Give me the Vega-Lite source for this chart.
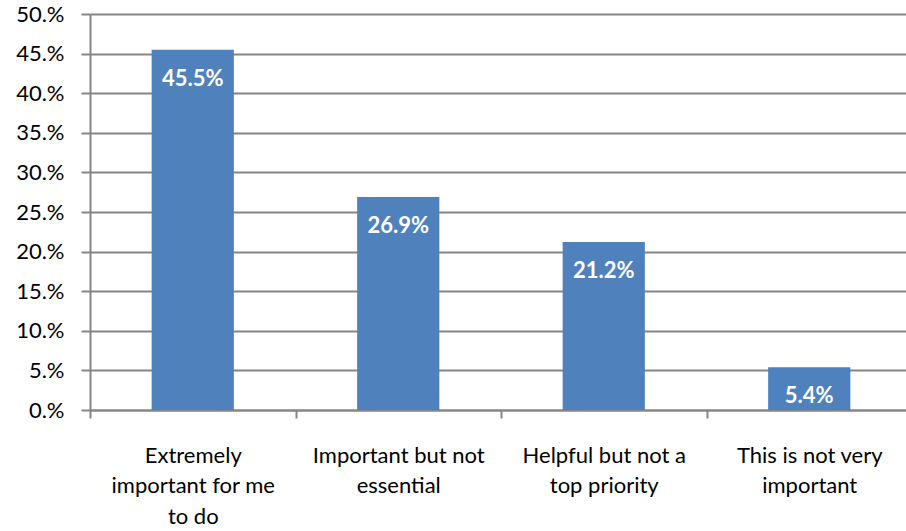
{
  "$schema": "https://vega.github.io/schema/vega-lite/v6.json",
  "width": 816,
  "height": 396,
  "autosize": {"type": "none"},
  "padding": {"left": 90, "top": 14, "right": 0, "bottom": 121},
  "background": "white",
  "config": {"view": {"stroke": null}, "font": "Lato"},
  "data": {
    "values": [
      {"category": "Extremely important for me to do", "share": 0.455},
      {"category": "Important but not essential", "share": 0.269},
      {"category": "Helpful but not a top priority", "share": 0.212},
      {"category": "This is not very important", "share": 0.054}
    ]
  },
  "encoding": {
    "x": {
      "field": "category",
      "type": "nominal",
      "sort": null,
      "scale": {"paddingInner": 0, "paddingOuter": 0, "range": [0, 822]},
      "axis": {
        "title": null,
        "labelAngle": 0,
        "tickBand": "extent",
        "domainColor": "#868686",
        "domainWidth": 2,
        "tickColor": "#868686",
        "tickWidth": 2,
        "tickSize": 8,
        "grid": false,
        "labelFont": "Lato",
        "labelFontSize": 22,
        "labelColor": "#000000",
        "labelPadding": 44,
        "labelBaseline": "alphabetic",
        "labelLineHeight": 30.5,
        "labelLimit": 0,
        "labelExpr": "datum.value == 'Extremely important for me to do' ? ['Extremely', 'important for me', 'to do'] : datum.value == 'Important but not essential' ? ['Important but not', 'essential'] : datum.value == 'Helpful but not a top priority' ? ['Helpful but not a', 'top priority'] : datum.value == 'This is not very important' ? ['This is not very', 'important'] : ''"
      }
    },
    "y": {
      "field": "share",
      "type": "quantitative",
      "scale": {"domain": [0, 0.5], "nice": false},
      "axis": {
        "title": null,
        "values": [0, 0.05, 0.1, 0.15, 0.2, 0.25, 0.3, 0.35, 0.4, 0.45, 0.5],
        "labelExpr": "format(datum.value * 100, '.0f') + '.%'",
        "grid": true,
        "gridColor": "#868686",
        "gridWidth": 2,
        "domainColor": "#868686",
        "domainWidth": 2,
        "tickColor": "#868686",
        "tickWidth": 2,
        "tickSize": 9,
        "labelFont": "Lato",
        "labelFontSize": 22,
        "labelColor": "#000000",
        "labelPadding": 17
      }
    }
  },
  "layer": [
    {
      "mark": {"type": "bar", "color": "#4F81BD", "width": {"band": 0.4}}
    },
    {
      "mark": {"type": "text", "color": "white", "fontWeight": "bold", "fontSize": 22, "font": "Lato", "baseline": "middle", "dy": 29},
      "encoding": {
        "text": {"field": "share", "type": "quantitative", "format": ".1%"}
      }
    }
  ]
}
